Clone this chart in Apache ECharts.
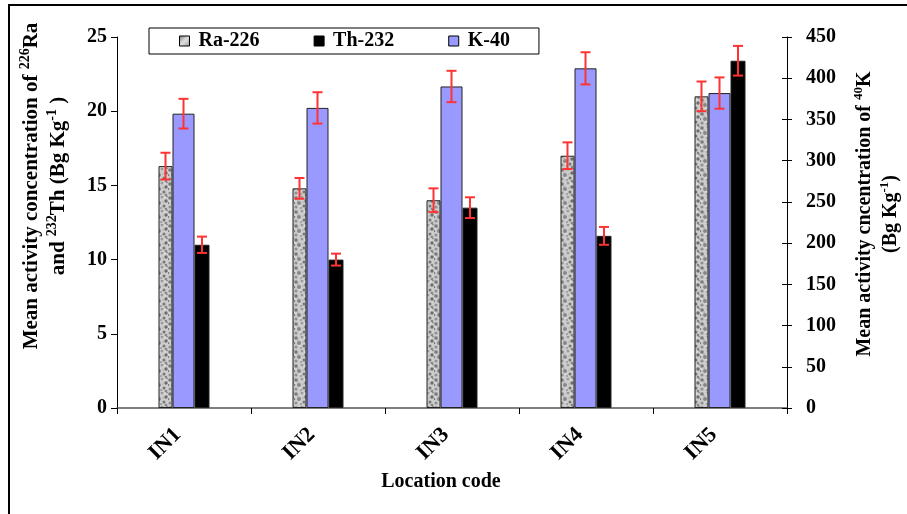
<!DOCTYPE html>
<html>
<head>
<meta charset="utf-8">
<script src="https://cdn.jsdelivr.net/npm/echarts@6/dist/echarts.min.js"></script>
<style>
  html, body { margin: 0; padding: 0; background: #fff; }
  #chart { width: 907px; height: 514px; }
</style>
</head>
<body>
<div id="chart"></div>
<script>
// Mean activity concentrations per location (Bq/kg) with their uncertainties
const categories = ['IN1', 'IN2', 'IN3', 'IN4', 'IN5'];
const ra226 = [16.3, 14.8, 14.0, 17.0, 21.0];
const ra226Err = [0.9, 0.7, 0.8, 0.9, 1.0];
const th232 = [11.0, 10.0, 13.5, 11.6, 23.4];
const th232Err = [0.55, 0.4, 0.7, 0.6, 1.0];
const k40 = [357, 364, 390, 412, 382];
const k40Err = [18, 19, 19, 19.5, 19];

// Axis ranges
const leftAxis = { min: 0, max: 25, interval: 5 };
const rightAxis = { min: 0, max: 450, interval: 50 };

const FONT = 'Liberation Serif';
const ERR_COLOR = '#ff3333';

// Bar widths in cluster order: Ra-226, K-40, Th-232
const barWidths = [14, 22, 15];
const totalWidth = barWidths.reduce((a, b) => a + b, 0);
const barCenters = [];
{
  let acc = -totalWidth / 2;
  barWidths.forEach(w => { barCenters.push(acc + w / 2); acc += w; });
}

// Mottled grey texture for the Ra-226 bars
function makeGraniteTile() {
  const c = document.createElement('canvas');
  c.width = 14; c.height = 14;
  const g = c.getContext('2d');
  g.fillStyle = '#cdcdcd';
  g.fillRect(0, 0, 14, 14);
  const spots = [
    [2, 2, 1.8, '#7a7a7a'], [8, 1, 1.4, '#9a9a9a'], [12, 5, 1.7, '#6e6e6e'],
    [5, 7, 2.0, '#888888'], [10, 10, 1.5, '#767676'], [2, 11, 1.6, '#909090'],
    [7, 12, 1.2, '#a4a4a4'], [12, 13, 1.3, '#858585'], [4, 4, 1.0, '#b4b4b4'],
    [9, 6, 1.0, '#b8b8b8'], [0, 7, 1.3, '#808080'], [13, 0, 1.2, '#8e8e8e'],
    [6, 10, 0.8, '#e6e6e6'], [11, 2, 0.8, '#e8e8e8'], [1, 5, 0.8, '#e4e4e4']
  ];
  spots.forEach(([x, y, r, col]) => {
    g.fillStyle = col;
    g.beginPath();
    g.arc(x, y, r, 0, Math.PI * 2);
    g.fill();
  });
  return c;
}
const granite = { image: makeGraniteTile(), repeat: 'repeat' };

// Error-bar drawer: vertical whisker with caps, shifted to its bar's centre
function errorRenderer(offset) {
  return function (params, api) {
    const i = api.value(0);
    const v = api.value(1);
    const e = api.value(2);
    const hi = api.coord([i, v + e]);
    const lo = api.coord([i, v - e]);
    const x = hi[0] + offset;
    const cap = 5;
    const style = { stroke: ERR_COLOR, lineWidth: 2 };
    return {
      type: 'group',
      children: [
        { type: 'line', shape: { x1: x, y1: hi[1], x2: x, y2: lo[1] }, style },
        { type: 'line', shape: { x1: x - cap, y1: hi[1], x2: x + cap, y2: hi[1] }, style },
        { type: 'line', shape: { x1: x - cap, y1: lo[1], x2: x + cap, y2: lo[1] }, style }
      ]
    };
  };
}
const errData = (vals, errs) => vals.map((v, i) => [i, v, errs[i]]);

const axisLabelStyle = { fontFamily: FONT, fontWeight: 'bold', fontSize: 20, color: '#000' };
function superRich(size) {
  return {
    t: { fontFamily: FONT, fontWeight: 'bold', fontSize: size, lineHeight: size + 6, color: '#000' },
    s: { fontFamily: FONT, fontWeight: 'bold', fontSize: Math.round(size * 0.65), lineHeight: Math.round(size * 0.65),
         verticalAlign: 'top', color: '#000' }
  };
}

const chart = echarts.init(document.getElementById('chart'), null, { renderer: 'canvas' });

chart.setOption({
  animation: false,
  backgroundColor: '#fff',
  grid: { left: 117, right: 120, top: 37, bottom: 106, containLabel: false },
  legend: {
    data: [
      { name: 'Ra-226', itemStyle: { color: { type: 'linear', x: 0, y: 0, x2: 1, y2: 1,
        colorStops: [{ offset: 0, color: '#7a7a7a' }, { offset: 0.5, color: '#e0e0e0' }, { offset: 1, color: '#9a9a9a' }] } } },
      { name: 'Th-232' },
      { name: 'K-40' }
    ],
    left: 149, top: 28,
    padding: [3, 29, 3, 30],
    borderColor: '#000', borderWidth: 1,
    itemWidth: 10, itemHeight: 10, itemGap: 54,
    icon: 'rect',
    itemStyle: { borderColor: '#000', borderWidth: 1 },
    textStyle: { fontFamily: FONT, fontWeight: 'bold', fontSize: 20, color: '#000', padding: [0, 0, 0, 4] },
    selectedMode: false
  },
  xAxis: {
    type: 'category',
    data: categories,
    boundaryGap: true,
    axisLine: { lineStyle: { color: '#555', width: 1.5 } },
    axisTick: { show: true, alignWithLabel: false, length: 6, lineStyle: { color: '#000' } },
    axisLabel: { ...axisLabelStyle, fontSize: 22, rotate: 45, margin: 17, interval: 0, padding: [0, 9, 0, 0] }
  },
  yAxis: [
    {
      type: 'value', position: 'left', ...leftAxis,
      splitLine: { show: false },
      axisLine: { show: true, lineStyle: { color: '#000' } },
      axisTick: { show: true, length: 6, lineStyle: { color: '#000' } },
      axisLabel: { ...axisLabelStyle, margin: 10 }
    },
    {
      type: 'value', position: 'right', ...rightAxis,
      splitLine: { show: false },
      axisLine: { show: true, lineStyle: { color: '#000' } },
      axisTick: { show: true, length: 5, lineStyle: { color: '#000' } },
      axisLabel: { ...axisLabelStyle, margin: 19 }
    },
    {
      // inner half of the right-hand ticks, so they cross the axis line
      type: 'value', position: 'right', ...rightAxis,
      splitLine: { show: false },
      axisLine: { show: false },
      axisTick: { show: true, inside: true, length: 5, lineStyle: { color: '#000' } },
      axisLabel: { show: false }
    }
  ],
  series: [
    {
      name: 'Ra-226', type: 'bar', yAxisIndex: 0, data: ra226,
      barWidth: barWidths[0], barGap: '0%',
      itemStyle: { color: granite, borderColor: '#222', borderWidth: 1 }
    },
    {
      name: 'K-40', type: 'bar', yAxisIndex: 1, data: k40,
      barWidth: barWidths[1], barGap: '0%',
      itemStyle: { color: '#9999ff', borderColor: '#222', borderWidth: 1 }
    },
    {
      name: 'Th-232', type: 'bar', yAxisIndex: 0, data: th232,
      barWidth: barWidths[2], barGap: '0%',
      itemStyle: { color: '#000', borderColor: '#222', borderWidth: 1 }
    },
    {
      name: 'Ra-226 error', type: 'custom', yAxisIndex: 0, z: 5,
      renderItem: errorRenderer(barCenters[0]),
      encode: { x: 0, y: 1 }, data: errData(ra226, ra226Err), silent: true
    },
    {
      name: 'K-40 error', type: 'custom', yAxisIndex: 1, z: 5,
      renderItem: errorRenderer(barCenters[1]),
      encode: { x: 0, y: 1 }, data: errData(k40, k40Err), silent: true
    },
    {
      name: 'Th-232 error', type: 'custom', yAxisIndex: 0, z: 5,
      renderItem: errorRenderer(barCenters[2]),
      encode: { x: 0, y: 1 }, data: errData(th232, th232Err), silent: true
    }
  ],
  graphic: [
    {
      type: 'rect', z: -1, silent: true,
      shape: { x: 9, y: 5, width: 1000, height: 600 },
      style: { fill: 'none', stroke: '#000', lineWidth: 2 }
    },
    {
      type: 'text', x: 45, y: 186, rotation: Math.PI / 2, silent: true,
      style: {
        text: '{t|Mean activity concentration of }{s|226}{t|Ra}\n{t|and }{s|232}{t|Th (Bg Kg}{s|-1}{t| )}',
        rich: superRich(21), align: 'center', verticalAlign: 'middle'
      }
    },
    {
      type: 'text', x: 878, y: 214, rotation: Math.PI / 2, silent: true,
      style: {
        text: '{t|Mean activity cncentration of }{s|40}{t|K}\n{t|(Bg Kg}{s|-1}{t|)}',
        rich: superRich(20), align: 'center', verticalAlign: 'middle'
      }
    },
    {
      type: 'text', x: 441, y: 482, silent: true,
      style: {
        text: 'Location code', fontFamily: FONT, fontWeight: 'bold', fontSize: 20,
        fill: '#000', align: 'center', verticalAlign: 'middle'
      }
    }
  ]
});
</script>
</body>
</html>
